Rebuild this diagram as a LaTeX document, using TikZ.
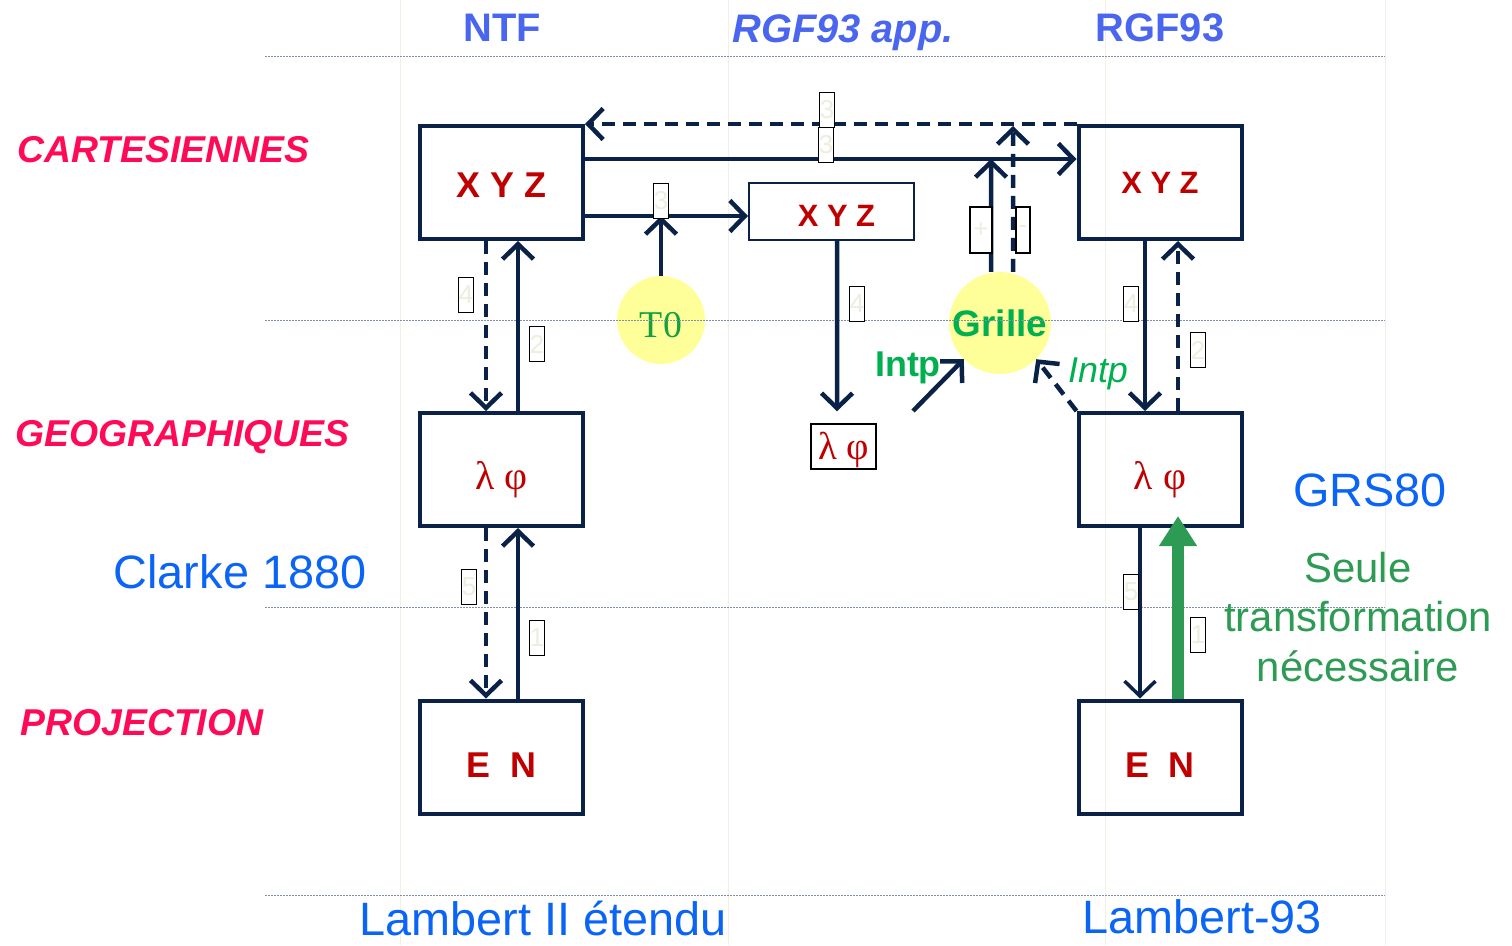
\documentclass[tikz,border=0pt]{standalone}
\usepackage{fontspec}
\setmainfont{Liberation Sans}
\newfontfamily\serifgr{Liberation Serif}
\usetikzlibrary{arrows.meta,shapes.geometric}
\newcommand\fsz[1]{\fontsize{#1}{#1}\selectfont}
\definecolor{navy}{HTML}{0A2248}
\definecolor{dred}{HTML}{C00000}
\definecolor{pinkc}{HTML}{FF0A57}
\definecolor{hblue}{HTML}{4A66EE}
\definecolor{tblue}{HTML}{0A64F5}
\definecolor{bgreen}{HTML}{2E9B55}
\definecolor{ggreen}{HTML}{00B050}
\definecolor{tgreen}{HTML}{14A040}
\definecolor{yel}{HTML}{FFFF99}
\definecolor{pale}{HTML}{EDEDE0}
\definecolor{gridc}{HTML}{8090A8}
\definecolor{faint}{HTML}{F2F0E6}
\begin{document}
\begin{tikzpicture}[x=1bp,y=-1bp,
  box/.style={draw=navy, line width=4bp, minimum width=163bp, minimum height=113bp, inner sep=0pt, text=dred, font=\bfseries\fsz{36}},
  boxtxt/.style={label={[text=dred, font=#1, inner sep=0pt]center:}},
  lf/.style={label={[yshift=-10bp, text=dred, font=\serifgr\fsz{40}]center:λ φ}},
  en/.style={label={[yshift=-8bp, text=dred, font=\bfseries\fsz{36}]center:E\ \ N}},
  arr/.style={draw=navy, line width=4.5bp, -{Straight Barb[length=15bp,width=31bp]}},
  dsh/.style={dash pattern=on 13bp off 8bp},
  lbl/.style={draw=black, line width=1.3bp, fill=white, minimum width=15bp, minimum height=35bp, inner sep=0pt, text=pale, font=\fsz{26}},
  hdr/.style={text=hblue, font=\bfseries\fsz{40}},
  side/.style={anchor=west, text=pinkc, font=\bfseries\itshape\fsz{37.5}},
  bl/.style={text=tblue, font=\fsz{47}}
]
\useasboundingbox (0,0) rectangle (1512,945);
% faint vertical guides
\foreach \x in {400,728,1105,1385} \draw[faint, line width=1bp] (\x,0) -- (\x,945);

% boxes
\node[box, label={[yshift=-3bp, text=dred, font=\bfseries\fsz{36}]center:X~Y~Z}] (ntfc) at (501.5,182.5) {};
\node[box, lf] (ntfg) at (501.5,469.5) {};
\node[box, en] (ntfp) at (501.5,757) {};
\node[box, font=\bfseries\fsz{31}] (rgfc) at (1160,182.5) {X~Y~Z};
\node[box, lf] (rgfg) at (1160,469.5) {};
\node[box, en] (rgfp) at (1160,757) {};
\node[box, line width=2bp, minimum width=165bp, minimum height=57bp, font=\bfseries\fsz{31}, label={[yshift=-4bp, xshift=5bp, text=dred, font=\bfseries\fsz{31}]center:X~Y~Z}] (midc) at (831.5,211.5) {};
\node[draw=black, line width=1.5bp, minimum width=65bp, minimum height=45bp, inner sep=0pt, label={[yshift=-3bp, text=dred, font=\serifgr\fsz{39}]center:λ φ}] (midg) at (843.5,446.5) {};

% circles
\node[circle, fill=yel, minimum size=88bp, inner sep=0pt, label={[yshift=-5bp, text=tgreen, font=\serifgr\fsz{38}]center:T0}] (t0) at (661,320) {};
\node[circle, fill=yel, minimum size=102bp, inner sep=0pt, text=ggreen, font=\bfseries\fsz{37}] (grille) at (1000,323) {Grille};

% grid lines
\foreach \y in {56,320,607,895} \draw[gridc, line width=1bp, dash pattern=on 2bp off 1bp] (265,\y) -- (1385,\y);

% free ends
\coordinate (tj) at (661,216);
\coordinate (g1) at (991,159);
\coordinate (g2) at (1013,126);
\coordinate (ip) at (913,411);

% vertical arrows NTF
\draw[arr, dsh] ([xshift=-15.5bp]ntfc.south) -- ([xshift=-15.5bp]ntfg.north);
\draw[arr] ([xshift=16.5bp]ntfg.north) -- ([xshift=16.5bp]ntfc.south);
\draw[arr, dsh] ([xshift=-15.5bp]ntfg.south) -- ([xshift=-15.5bp]ntfp.north);
\draw[arr] ([xshift=16.5bp]ntfp.north) -- ([xshift=16.5bp]ntfg.south);
% vertical arrows RGF93
\draw[arr] ([xshift=-15bp]rgfc.south) -- ([xshift=-15bp]rgfg.north);
\draw[arr, dsh] ([xshift=18bp]rgfg.north) -- ([xshift=18bp]rgfc.south);
\draw[arr, line width=3.5bp] ([xshift=-20bp]rgfg.south) -- ([xshift=-20bp]rgfp.north);
\draw[draw=bgreen, line width=12bp, -{Triangle[length=30bp,width=36bp]}] ([xshift=18bp]rgfp.north) -- ([xshift=18bp,yshift=12bp]rgfg.south);

% horizontal arrows
\draw[arr] ([yshift=23.5bp]ntfc.east) -- ([yshift=23.5bp]ntfc.east -| rgfc.west);
\draw[arr, dsh] (rgfc.north west) -- (ntfc.north east);
\draw[arr] ([yshift=-33.5bp]ntfc.east) -- ([yshift=-33.5bp]ntfc.east -| midc.west);
\draw[arr] (t0) -- (tj);
\draw[arr] ([xshift=5.5bp]midc.south) -- ([xshift=-6.5bp,yshift=12bp]midg.north);
\draw[arr] ([xshift=-9bp]grille.north) -- (g1);
\draw[arr, dsh] ([xshift=13bp]grille.north) -- (g2);
\draw[arr] (ip) -- (grille.225);
\draw[arr, dsh] (rgfg.north west) -- (grille.-45);

% small number labels
\node[lbl] (l3a) at (827,110) {3};
\node[lbl] (l3b) at (826,145) {3};
\node[lbl] (l3c) at (661,201) {3};
\node[lbl, minimum width=22bp, minimum height=46bp] (lplus) at (981,230) {+};
\node[lbl, minimum width=14bp, minimum height=46bp] (lminus) at (1023,230) {-};
\node[lbl] (l4a) at (466,295) {4};
\node[lbl] (l2a) at (537,344) {2};
\node[lbl] (l4b) at (857,304) {4};
\node[lbl] (l4c) at (1131,304) {4};
\node[lbl] (l2b) at (1198,350) {2};
\node[lbl] (l5a) at (469,587) {5};
\node[lbl] (l1a) at (537,638) {1};
\node[lbl] (l5b) at (1131,592) {5};
\node[lbl] (l1b) at (1198,635) {1};

% headings
\node[hdr] (hntf) at (502,28) {NTF};
\node[hdr, font=\bfseries\itshape\fsz{40}] (happ) at (843,33) {RGF93 app.};
\node[hdr] (hrgf) at (1160,28) {RGF93};
\node[side] (lcart) at (14,150) {CARTESIENNES};
\node[side] (lgeo) at (12,437) {GEOGRAPHIQUES};
\node[side] (lproj) at (17,723) {PROJECTION};
\node[bl] (clarke) at (240,572) {Clarke 1880};
\node[bl] (grs) at (1370,490) {GRS80};
\node[bl] (l2e) at (543,918) {Lambert II étendu};
\node[bl] (l93) at (1202,917) {Lambert-93};
\node[align=center, text=bgreen, font=\fontsize{42}{50}\selectfont] (seule) at (1358,617) {Seule\\transformation\\nécessaire};
\node[text=ggreen, font=\bfseries\fsz{36}] (intp1) at (908,368) {Intp};
\node[text=ggreen, font=\itshape\fsz{36}] (intp2) at (1098,374) {Intp};
\end{tikzpicture}
\end{document}
